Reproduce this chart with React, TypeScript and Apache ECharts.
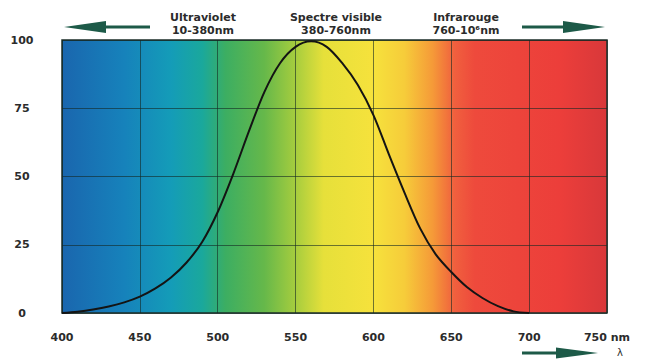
import React, { useEffect, useRef } from "react";
import * as echarts from "echarts";

const wavelengths = [400, 410, 420, 430, 440, 450, 460, 470, 480, 490, 500, 510, 520, 530, 540, 550, 560, 570, 580, 590, 600, 610, 620, 630, 640, 650, 660, 670, 680, 690, 700];
const sensitivity = [0, 0.5, 1.3, 2.4, 3.9, 6, 9, 13, 18.5, 26, 37, 51, 66.5, 81, 91.5, 97.5, 99.5, 97.5, 91.5, 83.5, 72.5, 58, 44, 31, 21.5, 15, 9.5, 5.5, 2.5, 0.6, 0];
const xTicks = [400, 450, 500, 550, 600, 650, 700, 750];
const yTicks = [0, 25, 50, 75, 100];
const bandTitles = ["Ultraviolet", "Spectre visible", "Infrarouge"];
const bandRanges = ["10-380nm", "380-760nm", "760-10⁶nm"];

const spectrumStops = [
  [400, "#1a66ae"],
  [440, "#1682bb"],
  [470, "#149cb8"],
  [490, "#1aa89c"],
  [505, "#3cae62"],
  [530, "#66b84a"],
  [550, "#a6cd3e"],
  [568, "#e6e03a"],
  [600, "#f6e23c"],
  [620, "#f6cc3a"],
  [638, "#f59a38"],
  [652, "#f0603e"],
  [665, "#ee4a3c"],
  [720, "#ec3e3a"],
  [750, "#d8383a"],
];

const FONT = "DejaVu Sans";
const TXT = "#2b2b2b";
const ARROW = "#1d5a48";

export default function App() {
  const ref = useRef<HTMLDivElement>(null);
  useEffect(() => {
    const chart = echarts.init(ref.current!, null, { renderer: "svg" });
    const gradient = new echarts.graphic.LinearGradient(
      0, 0, 1, 0,
      spectrumStops.map(([l, c]) => ({ offset: ((l as number) - 400) / 350, color: c as string }))
    );
    const arrowLeft = [
      { type: "polygon", shape: { points: [[64, 27], [106, 21], [106, 33]] }, style: { fill: ARROW } },
      { type: "rect", shape: { x: 104, y: 25.6, width: 46, height: 3 }, style: { fill: ARROW } },
    ];
    const arrowRight = [
      { type: "polygon", shape: { points: [[605, 27], [563, 21], [563, 33]] }, style: { fill: ARROW } },
      { type: "rect", shape: { x: 522, y: 25.6, width: 43, height: 3 }, style: { fill: ARROW } },
    ];
    const arrowBottom = [
      { type: "polygon", shape: { points: [[598, 353], [556, 347.5], [556, 358.5]] }, style: { fill: ARROW } },
      { type: "rect", shape: { x: 522, y: 351.6, width: 36, height: 3 }, style: { fill: ARROW } },
    ];
    const centers = [203, 336, 466];
    const headers = centers.map((cx, i) => ({
      type: "text",
      x: cx,
      y: 11,
      style: {
        text: bandTitles[i] + "\n" + bandRanges[i],
        fill: TXT,
        font: `bold 11px "${FONT}"`,
        textAlign: "center",
        lineHeight: 13,
      },
    }));
    chart.setOption({
      animation: false,
      grid: {
        left: 62,
        right: 38,
        top: 40,
        bottom: 48,
        show: true,
        backgroundColor: gradient,
        borderColor: "#1c2e28",
        borderWidth: 1.5,
      },
      xAxis: {
        type: "value",
        min: 400,
        max: 750,
        interval: 50,
        axisLine: { show: false },
        axisTick: { show: false },
        splitLine: { show: true, lineStyle: { color: "rgba(20,40,35,0.6)", width: 1 } },
        axisLabel: {
          margin: 19,
          color: TXT,
          fontFamily: FONT,
          fontWeight: "bold",
          fontSize: 11,
          formatter: (v: number) => (xTicks.includes(v) ? (v === 750 ? "750 nm" : String(v)) : ""),
        },
      },
      yAxis: {
        type: "value",
        min: 0,
        max: 100,
        interval: 25,
        axisLine: { show: false },
        axisTick: { show: false },
        splitLine: { show: true, lineStyle: { color: "rgba(20,40,35,0.6)", width: 1 } },
        axisLabel: {
          margin: 40,
          align: "center",
          color: TXT,
          fontFamily: FONT,
          fontWeight: "bold",
          fontSize: 11,
          formatter: (v: number) => (yTicks.includes(v) ? String(v) : ""),
        },
      },
      series: [
        {
          type: "line",
          data: wavelengths.map((w, i) => [w, sensitivity[i]]),
          smooth: 0.3,
          showSymbol: false,
          lineStyle: { color: "#141414", width: 2 },
          z: 5,
        },
      ],
      graphic: [
        ...arrowLeft,
        ...arrowRight,
        ...arrowBottom,
        ...headers,
        {
          type: "text",
          x: 617,
          y: 347,
          style: { text: "λ", fill: TXT, font: `10px "${FONT}"` },
        },
      ],
    });
    return () => chart.dispose();
  }, []);
  return (
    <div
      ref={ref}
      style={{ position: "fixed", left: 0, top: 0, width: 645, height: 361, background: "#fff" }}
    />
  );
}
